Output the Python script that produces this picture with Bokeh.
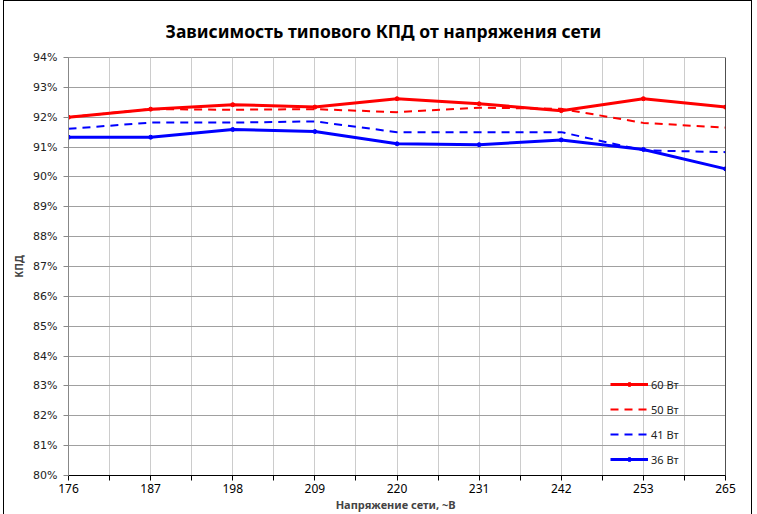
from bokeh.plotting import figure
from bokeh.models import FixedTicker, Legend, LegendItem, Span, PrintfTickFormatter, Range1d, Title
from bokeh.embed import file_html
from bokeh.resources import INLINE

voltages = ["176", "187", "198", "209", "220", "231", "242", "253", "265"]
eff_60 = [92.0, 92.27, 92.42, 92.34, 92.62, 92.45, 92.22, 92.62, 92.34]
eff_50 = [92.0, 92.27, 92.25, 92.27, 92.17, 92.32, 92.28, 91.81, 91.65]
eff_41 = [91.61, 91.82, 91.82, 91.86, 91.5, 91.5, 91.5, 90.89, 90.83]
eff_36 = [91.33, 91.33, 91.59, 91.52, 91.11, 91.08, 91.24, 90.92, 90.27]
y_ticks = list(range(80, 95))
title_text = "Зависимость типового КПД от напряжения сети"

x = list(range(len(voltages)))
half = [i + 0.5 for i in x[:-1]]

p = figure(frame_width=657, frame_height=418, output_backend="svg", toolbar_location=None,
           x_range=Range1d(x[0], x[-1]), y_range=Range1d(80, 94),
           min_border_left=64, min_border_right=26, min_border_top=56, min_border_bottom=38,
           background_fill_color="white", border_fill_color="white")
p.styles = {"border-top": "1px solid black", "border-left": "1px solid black",
            "border-right": "1px solid black", "margin-left": "3px", "margin-top": "0px"}

title = Title(text=title_text, align="left",
              text_font="Noto Sans", text_font_size="17.5px", text_font_style="bold",
              text_color="black", standoff=30, offset=97)
p.add_layout(title, "above")

r60 = p.line(x, eff_60, line_color="#ff0000", line_width=3)
s60 = p.scatter(x, eff_60, size=4, fill_color="#ff0000", line_color="#ff0000")
r50 = p.line(x, eff_50, line_color="#ff0000", line_width=2, line_dash="8 6")
r41 = p.line(x, eff_41, line_color="#0000ff", line_width=2, line_dash="8 6")
r36 = p.line(x, eff_36, line_color="#0000ff", line_width=3)
s36 = p.scatter(x, eff_36, size=4, fill_color="#0000ff", line_color="#0000ff")

p.add_layout(Span(location=x[-1], dimension="height", line_color="black", line_width=1))

p.xaxis.ticker = FixedTicker(ticks=x, minor_ticks=half)
p.xaxis.major_label_overrides = {i: v for i, v in zip(x, voltages)}
p.xaxis.axis_line_color = "black"
p.xaxis.major_tick_out = 5
p.xaxis.major_tick_in = 0
p.xaxis.minor_tick_out = 5
p.xaxis.minor_tick_in = 0
p.xaxis.major_tick_line_color = "black"
p.xaxis.minor_tick_line_color = "black"
p.xaxis.major_label_text_font = "Noto Sans"
p.xaxis.major_label_text_font_size = "12px"
p.xaxis.major_label_text_color = "black"
p.xaxis.major_label_standoff = 3
p.xaxis.axis_label = "Напряжение  сети, ~В"
p.xaxis.axis_label_text_font = "Noto Sans"
p.xaxis.axis_label_text_font_size = "11px"
p.xaxis.axis_label_text_font_style = "bold"
p.xaxis.axis_label_standoff = 1

p.yaxis.ticker = FixedTicker(ticks=y_ticks, minor_ticks=[])
p.yaxis.formatter = PrintfTickFormatter(format="%d%%")
p.yaxis.axis_line_color = "#888888"
p.yaxis.major_tick_out = 5
p.yaxis.major_tick_in = 0
p.yaxis.major_tick_line_color = "#888888"
p.yaxis.major_label_text_font = "DejaVu Sans"
p.yaxis.major_label_text_font_size = "11px"
p.yaxis.major_label_text_color = "#222222"
p.yaxis.major_label_standoff = 6
p.yaxis.axis_label = "КПД"
p.yaxis.axis_label_text_font = "Noto Sans"
p.yaxis.axis_label_text_font_size = "10px"
p.yaxis.axis_label_text_font_style = "bold"
p.yaxis.axis_label_standoff = 4

p.xgrid.grid_line_color = "#cccccc"
p.xgrid.minor_grid_line_color = "#cccccc"
p.ygrid.grid_line_color = "#a0a0a0"
p.outline_line_color = "#a0a0a0"

legend = Legend(items=[
    LegendItem(label="60 Вт", renderers=[r60, s60]),
    LegendItem(label="50 Вт", renderers=[r50]),
    LegendItem(label="41 Вт", renderers=[r41]),
    LegendItem(label="36 Вт", renderers=[r36, s36]),
], location=(540, 4), background_fill_alpha=0, border_line_alpha=0,
    glyph_width=38, glyph_height=10, label_height=20, spacing=5, padding=2,
    label_standoff=3, label_text_font="Noto Sans", label_text_font_size="11px",
    label_text_color="#222222")
p.add_layout(legend)

open("out.html", "w").write(file_html(p, INLINE))
